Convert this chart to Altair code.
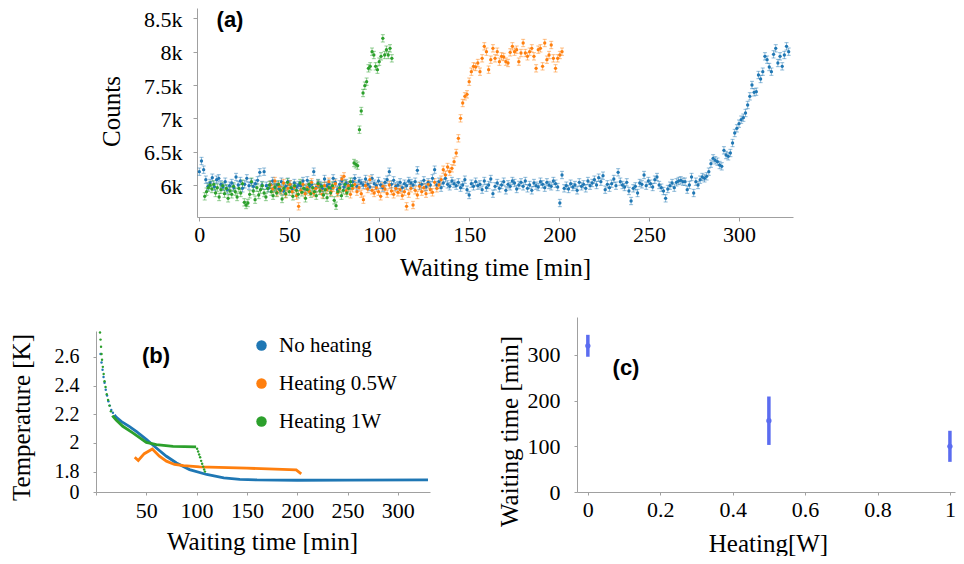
import altair as alt
import pandas as pd

W, H = 948, 548
SERIF = "Liberation Serif"
SANS = "Liberation Sans"

SERIES = ["No heating", "Heating 0.5W", "Heating 1W"]
COLORS = ["#1f77b4", "#ff7f0e", "#2ca02c"]
C_COLOR = "#5b6cf0"

# ---------------- panel (a): counts vs waiting time ----------------
blue_start, blue_step = 0.0, 1.2
blue_counts = [
    6200, 6360, 6230, 6080, 5980, 6030, 6110, 5975, 6080, 6100,
    6010, 5970, 6050, 5930, 5990, 6030, 5960, 6120, 6000, 6060,
    5950, 6010, 6100, 5990, 6040, 5980, 6020, 6070, 6190, 6000,
    6200, 5990, 5950, 6010, 6060, 5960, 6000, 5940, 6050, 5910,
    5980, 6050, 6010, 5940, 6030, 5970, 6000, 5990, 6060, 5940,
    6070, 5980, 6010, 6200, 5960, 6030, 6000, 5950, 6090, 5990,
    6020, 5960, 6100, 6040, 5930, 6010, 6060, 5970, 6030, 6000,
    5990, 6050, 6100, 5980, 6060, 6030, 6000, 6090, 6010, 5970,
    6100, 6020, 5990, 6060, 6000, 5960, 6040, 6080, 6200, 6010,
    6070, 5980, 6000, 6040, 5960, 6020, 5990, 6060, 6030, 6000,
    6050, 6220, 5990, 6010, 6070, 5970, 6040, 6000, 6100, 6230,
    6000, 6050, 5960, 6030, 6100, 6010, 5980, 6060, 6020, 5990,
    6040, 5960, 6000, 6080, 5930, 5850, 6020, 5980, 6050, 5990,
    6010, 5930, 6060, 5960, 6000, 6090, 5870, 5980, 6030, 5950,
    6000, 6050, 5920, 6010, 5980, 6060, 6030, 5940, 6000, 6040,
    5980, 6060, 5950, 6000, 5920, 6030, 5990, 5970, 6050, 6010,
    5960, 6040, 6000, 5980, 6060, 6020, 5970, 5730, 6150, 5950,
    5990, 5940, 6020, 5970, 6000, 5920, 6040, 5980, 6010, 5950,
    6060, 5990, 6030, 6080, 6000, 6110, 6050, 6140, 5930, 6010,
    5960, 6020, 6090, 5990, 6190, 6050, 6000, 5970, 6040, 5910,
    5760, 5950, 5980, 5880, 6030, 6010, 6150, 5990, 6060, 6020,
    5970, 6080, 6120, 6000, 5960, 5910, 5800, 5940, 5990, 6030,
    5960, 6040, 6060, 6070, 6050, 6050, 5930, 6000, 6120, 5880,
    6050, 6000, 6080, 6120, 6100, 6130, 6200, 6320, 6400, 6370,
    6350, 6300, 6280, 6520, 6450, 6430, 6480, 6630, 6780, 6850,
    6920, 6980, 7010, 7080, 7200, 7330, 7500, 7390, 7400, 7650,
    7590, 7700, 7930, 7880, 7770, 7700, 7960, 8050, 7830, 7930,
    7780, 7950, 8080, 8000,
]
orange_start, orange_step = 39.6, 1.2
orange_counts = [
    6000, 5940, 6060, 5890, 5980, 5920, 6030, 5860, 5950, 6010,
    5900, 5970, 5840, 5680, 5920, 6010, 5870, 5960, 5900, 6040,
    5880, 5950, 6000, 5920, 5860, 5990, 5930, 6050, 5900, 5960,
    6020, 5880, 5940, 6090, 6130, 5910, 5990, 5860, 5950, 6010,
    5900, 5960, 5870, 5780, 5990, 5940, 6080, 5920, 5880, 5960,
    5900, 5830, 5980, 5940, 5870, 6000, 5910, 5860, 5950, 5890,
    5930, 5840, 5900, 5680, 5870, 5950, 5700, 5920, 5850, 5980,
    5900, 5960, 5870, 6010, 5930, 5890, 6040, 5950, 6000, 6080,
    6230, 6150, 6270, 6200, 6250, 6350, 6480, 6700, 7000, 7230,
    7330, 7360, 7550, 7700, 7780, 7770, 7830, 7700, 7900, 8080,
    8000, 7730, 7880, 8050, 7900, 8000, 7850, 7930, 7920, 7850,
    7830, 7990, 8080, 8000, 8030, 7850, 7980, 8130, 7980, 7930,
    8000, 8050, 7930, 7750, 8030, 8050, 7780, 8130, 7880, 7950,
    8100, 7900, 7750, 7900, 7950, 8000,
]
green_start, green_step = 3.0, 1.0
green_counts = [
    5830, 5900, 5960, 6000, 5940, 6010, 5880, 5960, 5820, 5930,
    5990, 5870, 5950, 5800, 5910, 5860, 5980, 5900, 5820, 5950,
    5880, 6020, 5740, 5700, 5730, 5860, 6050, 5910, 5780, 5960,
    5850, 5930, 5990, 5880, 5820, 5950, 6000, 5900, 5840, 5970,
    5880, 6010, 5920, 5790, 5950, 5870, 6040, 5900, 5960, 5830,
    5990, 5920, 5860, 6030, 5890, 5950, 5800, 5930, 6010, 5870,
    5960, 5900, 5840, 6020, 5910, 5980, 5850, 5930, 5810, 5960,
    5880, 5990, 5770, 5690, 5900, 5960, 5840, 5920, 6010, 5880,
    5950, 6050, 5990, 6330, 6310, 6290, 6830, 7110, 7380, 7490,
    7550, 7750, 7780, 8000, 7950, 7780, 7730, 7850, 7930, 8200,
    7950, 8030, 7950, 8050, 7900,
]
count_err = 55

# ---------------- panel (b): temperature vs waiting time ----------------
blue_line_t = [18.3, 20, 25, 33, 40, 50, 60, 70, 80, 93, 110, 127, 143, 160, 200, 250, 330]
blue_line_T = [2.195, 2.18, 2.15, 2.115, 2.08, 2.025, 1.965, 1.907, 1.86, 1.814, 1.78,
               1.757, 1.746, 1.742, 1.740, 1.741, 1.742]
orange_line_t = [38.5, 42, 48, 56, 63, 70, 78, 87, 103, 150, 199, 204]
orange_line_T = [1.90, 1.878, 1.925, 1.958, 1.908, 1.873, 1.85, 1.842, 1.833, 1.824, 1.812, 1.785]
green_line_t = [16.2, 20, 26.6, 36.6, 50, 60, 76.6, 99.5]
green_line_T = [2.19, 2.16, 2.116, 2.07, 2.004, 1.988, 1.976, 1.972]

blue_dot_t = [4.5, 5.5, 6.5, 7.5, 8.5, 9.7, 11, 12.3, 13.7, 15.2, 16.8]
blue_dot_T = [2.62, 2.56, 2.51, 2.46, 2.42, 2.37, 2.33, 2.29, 2.26, 2.23, 2.21]
green_dot_t = [4, 4.5, 5, 5.5, 6, 6.8, 7.6, 8.5, 9.5, 10.7, 12, 13.4, 14.8,
               100.5, 101.5, 102.5, 103.5, 104.5, 105.5, 106.5, 107.5, 108.3]
green_dot_T = [2.77, 2.72, 2.67, 2.62, 2.58, 2.53, 2.48, 2.43, 2.39, 2.34, 2.30, 2.26, 2.22,
               1.96, 1.94, 1.92, 1.90, 1.875, 1.855, 1.835, 1.815, 1.80]

# ---------------- panel (c): waiting time vs heating ----------------
heating_w = [0, 0.5, 1.0]
wait_min = [320, 156, 100]
wait_err = [24, 53, 34]

# ---------------- tables ----------------
rows = []
for name, start, step, vals in [
    (SERIES[0], blue_start, blue_step, blue_counts),
    (SERIES[1], orange_start, orange_step, orange_counts),
    (SERIES[2], green_start, green_step, green_counts),
]:
    for i, v in enumerate(vals):
        rows.append({"series": name, "t": start + step * i, "c": v,
                     "lo": v - count_err, "hi": v + count_err})
dfa = pd.DataFrame(rows)

line_rows = []
for name, ts, Ts in [(SERIES[0], blue_line_t, blue_line_T),
                     (SERIES[1], orange_line_t, orange_line_T),
                     (SERIES[2], green_line_t, green_line_T)]:
    for t, T in zip(ts, Ts):
        line_rows.append({"series": name, "t": t, "T": T})
dfb_line = pd.DataFrame(line_rows)

dot_rows = []
for name, ts, Ts in [(SERIES[0], blue_dot_t, blue_dot_T),
                     (SERIES[2], green_dot_t, green_dot_T)]:
    for t, T in zip(ts, Ts):
        dot_rows.append({"series": name, "t": t, "T": T})
dfb_dot = pd.DataFrame(dot_rows)

dfc = pd.DataFrame({"h": heating_w, "w": wait_min,
                    "lo": [w - e for w, e in zip(wait_min, wait_err)],
                    "hi": [w + e for w, e in zip(wait_min, wait_err)]})

df_leg = pd.DataFrame({"series": SERIES})


def axis(**kw):
    base = dict(grid=False, domainColor="#a0a0a0", tickColor="#a0a0a0",
                labelColor="black", titleColor="black", labelFont=SERIF,
                titleFont=SERIF, labelFontSize=22, titleFontSize=25,
                titleFontWeight="normal", tickSize=4, titleBaseline="middle",
                labelFlush=False, labelOverlap=False, titleAngle=0)
    base.update(kw)
    return alt.Axis(**base)


color_scale = alt.Scale(domain=SERIES, range=COLORS)
color_leg = alt.Color(
    "series:N", scale=color_scale,
    legend=alt.Legend(title=None, orient="none", legendX=243, legendY=327,
                      symbolType="circle", symbolSize=110, symbolStrokeWidth=0,
                      symbolOpacity=1, labelFont=SERIF, labelFontSize=21,
                      labelColor="black", labelOffset=7, rowPadding=16, padding=0))
color_nol = alt.Color("series:N", scale=color_scale, legend=None)

# ---- panel (a) ----
xa_scale = alt.Scale(domain=[-1.3, 330], range=[189, 785], nice=False, zero=False)
ya_scale = alt.Scale(domain=[5520, 8655], range=[209, 0], nice=False, zero=False)
ax_a_x = axis(orient="bottom", offset=209 - H, values=[0, 50, 100, 150, 200, 250, 300],
              labelPadding=3, titleX=487, titleY=50, title="Waiting time [min]")
ax_a_y = axis(orient="left", offset=-189, values=[6000, 6500, 7000, 7500, 8000, 8500],
              labelExpr="datum.value / 1000 + 'k'", labelPadding=11, labelOffset=1,
              titleX=-86, titleY=103, titleAngle=270, title="Counts")

base_a = alt.Chart(dfa)
a_rules = base_a.mark_rule(strokeWidth=1, opacity=0.5).encode(
    x=alt.X("t:Q", scale=xa_scale, axis=None),
    y=alt.Y("lo:Q", scale=ya_scale, axis=None), y2="hi:Q", color=color_nol)
a_cap_lo = base_a.mark_tick(orient="horizontal", size=4, thickness=1, opacity=0.5).encode(
    x=alt.X("t:Q", scale=xa_scale, axis=None),
    y=alt.Y("lo:Q", scale=ya_scale, axis=None), color=color_nol)
a_cap_hi = base_a.mark_tick(orient="horizontal", size=4, thickness=1, opacity=0.5).encode(
    x=alt.X("t:Q", scale=xa_scale, axis=None),
    y=alt.Y("hi:Q", scale=ya_scale, axis=None), color=color_nol)
a_pts = base_a.mark_circle(size=11, opacity=1).encode(
    x=alt.X("t:Q", scale=xa_scale, axis=ax_a_x),
    y=alt.Y("c:Q", scale=ya_scale, axis=ax_a_y), color=color_nol)

# ---- panel (b) ----
xb_scale = alt.Scale(domain=[0, 332], range=[88, 422], nice=False, zero=False)
yb_scale = alt.Scale(domain=[1.658, 2.78], range=[484, 323], nice=False, zero=False)
ax_b_x = axis(orient="bottom", offset=484 - H, values=[0, 50, 100, 150, 200, 250, 300],
              labelExpr="datum.value == 0 ? '' : datum.label", labelPadding=5,
              tickSize=3, titleX=254, titleY=49, title="Waiting time [min]")
ax_b_y = axis(orient="left", offset=-88, values=[1.658, 1.8, 2, 2.2, 2.4, 2.6],
              labelExpr="datum.value < 1.7 ? '0' : format(datum.value, '~g')",
              labelFontSize=20, labelPadding=14, tickSize=3, titleX=-75, titleY=409,
              titleAngle=270, title="Temperature [K]")
b_lines = alt.Chart(dfb_line).mark_line(strokeWidth=2.8).encode(
    x=alt.X("t:Q", scale=xb_scale, axis=ax_b_x),
    y=alt.Y("T:Q", scale=yb_scale, axis=ax_b_y),
    color=color_nol, order="t:Q")
b_dots = alt.Chart(dfb_dot).mark_circle(size=6, opacity=1).encode(
    x=alt.X("t:Q", scale=xb_scale, axis=None),
    y=alt.Y("T:Q", scale=yb_scale, axis=None), color=color_nol)

# ---- panel (c) ----
xc_scale = alt.Scale(domain=[-0.03, 1.014], range=[569, 947], nice=False, zero=False)
yc_scale = alt.Scale(domain=[0, 383], range=[484, 309], nice=False, zero=False)
ax_c_x = axis(orient="bottom", offset=484 - H, values=[0, 0.2, 0.4, 0.6, 0.8, 1],
              format="~g", labelPadding=4, tickSize=3, titleX=760, titleY=51,
              title="Heating[W]")
ax_c_y = axis(orient="left", offset=-569, values=[0, 100, 200, 300], labelPadding=14,
              tickSize=3, titleX=-68, titleY=423, titleAngle=270,
              title="Waiting time [min]")
c_rule = alt.Chart(dfc).mark_rule(strokeWidth=3.5, color=C_COLOR).encode(
    x=alt.X("h:Q", scale=xc_scale, axis=None),
    y=alt.Y("lo:Q", scale=yc_scale, axis=None), y2="hi:Q")
c_pts = alt.Chart(dfc).mark_circle(size=28, opacity=1, color=C_COLOR).encode(
    x=alt.X("h:Q", scale=xc_scale, axis=ax_c_x),
    y=alt.Y("w:Q", scale=yc_scale, axis=ax_c_y))

# ---- legend carrier (invisible marks, visible legend) ----
leg_layer = alt.Chart(df_leg).mark_circle(size=0, opacity=1).encode(
    color=color_leg, x=alt.value(-50), y=alt.value(-50))

# ---- panel tags ----
def tag(label, px, py):
    return alt.Chart(pd.DataFrame({"lab": [label]})).mark_text(
        font=SANS, fontWeight="bold", fontSize=22, color="black",
        align="center", baseline="middle").encode(
        text="lab:N", x=alt.value(px), y=alt.value(py))

chart = alt.layer(
    leg_layer,
    a_rules, a_cap_lo, a_cap_hi, a_pts,
    b_lines, b_dots,
    c_rule, c_pts,
    tag("(a)", 222, 12), tag("(b)", 148, 348), tag("(c)", 618, 360),
).resolve_scale(x="independent", y="independent", color="independent").properties(
    width=W, height=H, padding=0,
    autosize=alt.AutoSizeParams(type="none"),
).configure_view(strokeWidth=0)

chart.save("out.html", embed_options={"renderer": "svg", "actions": False})
